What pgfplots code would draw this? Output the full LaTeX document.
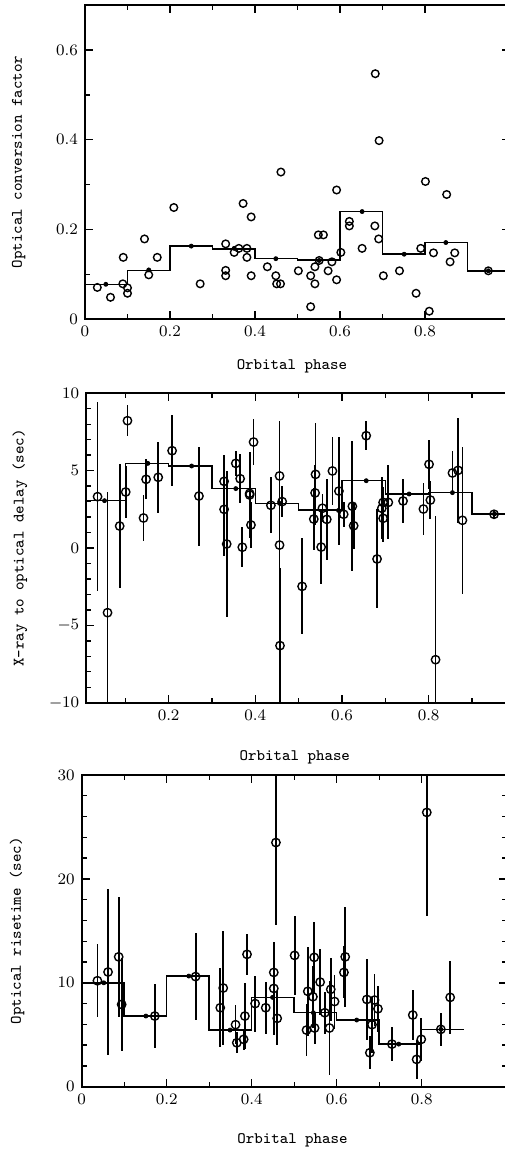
\documentclass[border=0pt]{standalone}
\usepackage{pgfplots}
\pgfplotsset{compat=1.18}

\pgfplotsset{
  phase/.style={
    scale only axis,
    anchor=south west,
    width=212.5pt,
    xmax=1,
    axis line style={line width=1pt},
    tick style={line width=0.7pt, black},
    major tick length=4pt, minor tick length=2.5pt,
    tick label style={font=\fontsize{8}{9}\selectfont},
    label style={font=\fontsize{8}{9}\selectfont\ttfamily},
    minor x tick num=1,
    xlabel={Orbital phase},
  },
  pts/.style={only marks, mark=o, mark size=1.9pt, mark options={line width=0.7pt}, black},
  bins/.style={only marks, mark=*, mark size=1pt, black},
  steps/.style={const plot, line width=0.75pt, black, mark=none},
  errs/.style={only marks, mark=o, mark size=2.1pt, mark options={line width=0.7pt}, black,
    error bars/.cd, y dir=both, y explicit, error mark=none,
    error bar style={line width=0.9pt}},
}

\begin{document}
\begin{tikzpicture}

% top: conversion factor
\begin{axis}[phase, at={(42.5pt,-159.65pt)}, height=157.15pt,
  xmin=0, xtick={0,0.2,0.4,0.6,0.8},
  ymin=0, ymax=0.7, ytick distance=0.2, minor y tick num=1,
  ylabel={Optical conversion factor},
  ylabel style={at={(axis description cs:-0.156,0.5)}, anchor=center},
  xlabel style={at={(axis description cs:0.487,-0.149)}, anchor=center}]
\addplot[steps] table {
0   0.078
0.1 0.109
0.2 0.163
0.3 0.157
0.4 0.135
0.5 0.132
0.6 0.240
0.7 0.145
0.8 0.171
0.9 0.108
1.0 0.108
};
\addplot[bins] table {
0.049 0.078
0.150 0.110
0.250 0.163
0.351 0.158
0.449 0.135
0.551 0.131
0.652 0.240
0.751 0.145
0.849 0.171
0.949 0.108
};
\addplot[pts] table {
0.029 0.071
0.060 0.049
0.090 0.138
0.089 0.079
0.100 0.070
0.100 0.058
0.140 0.179
0.150 0.099
0.170 0.138
0.209 0.249
0.271 0.079
0.331 0.168
0.331 0.109
0.331 0.097
0.351 0.149
0.362 0.158
0.372 0.258
0.381 0.158
0.381 0.138
0.391 0.228
0.391 0.097
0.429 0.117
0.449 0.097
0.451 0.079
0.460 0.079
0.461 0.328
0.502 0.108
0.531 0.097
0.531 0.028
0.541 0.117
0.541 0.079
0.549 0.188
0.561 0.188
0.551 0.131
0.572 0.108
0.581 0.128
0.592 0.288
0.592 0.088
0.602 0.149
0.622 0.218
0.622 0.208
0.652 0.158
0.683 0.547
0.692 0.398
0.682 0.208
0.691 0.179
0.702 0.097
0.740 0.108
0.779 0.058
0.790 0.158
0.801 0.307
0.810 0.018
0.820 0.148
0.851 0.278
0.859 0.128
0.870 0.148
0.949 0.108
};
\end{axis}

% middle: delay
\begin{axis}[phase, at={(43.15pt,-351.35pt)}, height=154.7pt, width=214.5pt,
  xmin=0.01, xtick={0.2,0.4,0.6,0.8}, minor xtick={0.1,0.3,0.5,0.7,0.9},
  ymin=-10, ymax=10, ytick distance=5, minor y tick num=4,
  ylabel={X-ray to optical delay (sec)},
  ylabel style={at={(axis description cs:-0.155,0.5)}, anchor=center},
  xlabel style={at={(axis description cs:0.486,-0.176)}, anchor=center}]
\addplot[steps] table {
0.01 3.06
0.1  5.47
0.2  5.30
0.3  3.84
0.4  2.89
0.5  2.46
0.6  4.35
0.7  3.49
0.8  3.58
0.9  2.20
1.0  2.20
};
\addplot[bins] table {
0.052 3.06
0.152 5.47
0.253 5.30
0.355 3.84
0.456 2.89
0.592 2.43
0.656 4.35
0.755 3.49
0.855 3.58
0.952 2.20
};
\addplot[errs] table[x index=0, y index=1, y error index=2] {
0.036 3.32 6.1
0.059 -4.18 7.8
0.087 1.42 4.0
0.101 3.62 1.7
0.105 8.23 1.0
0.142 1.94 1.5
0.148 4.44 1.3
0.176 4.57 2.3
0.208 6.29 2.3
0.270 3.36 3.2
0.328 4.31 1.7
0.328 2.50 3.0
0.334 0.26 4.7
0.355 5.47 0.8
0.365 4.48 1.6
0.370 0.05 1.3
0.387 3.53 0.8
0.387 3.43 2.8
0.390 1.49 1.5
0.396 6.85 1.5
0.436 2.76 1.8
0.456 4.66 3.5
0.456 0.19 8.0
0.457 -6.31 5.0
0.462 3.00 1.0
0.508 -2.48 3.1
0.539 4.76 3.3
0.538 3.56 1.8
0.535 1.87 2.0
0.555 2.57 0.9
0.552 0.06 2.4
0.565 1.85 2.6
0.578 4.98 2.2
0.593 3.68 3.5
0.604 2.18 0.8
0.624 2.70 4.2
0.627 1.44 1.5
0.656 7.26 0.95
0.681 -0.71 3.2
0.692 2.57 2.0
0.695 1.92 1.5
0.695 2.95 1.0
0.707 2.95 2.4
0.741 3.04 1.4
0.788 2.52 1.7
0.801 5.41 1.6
0.804 3.10 1.2
0.816 -7.22 9.3
0.855 4.85 1.4
0.868 5.02 3.4
0.878 1.79 4.75
0.951 2.18 0.3
};
\end{axis}

% bottom: risetime
\begin{axis}[phase, at={(40.85pt,-543.35pt)}, height=155.85pt,
  xmin=0, xtick={0,0.2,0.4,0.6,0.8},
  ymin=0, ymax=30, ytick distance=10, minor y tick num=4,
  ylabel={Optical risetime (sec)},
  ylabel style={at={(axis description cs:-0.152,0.5)}, anchor=center},
  xlabel style={at={(axis description cs:0.496,-0.171)}, anchor=center}]
\addplot[steps] table {
0   10.0
0.1 6.8
0.2 10.65
0.3 5.45
0.4 8.6
0.5 7.12
0.6 6.42
0.7 4.1
0.8 5.52
0.9 5.52
};
\addplot[bins] table {
0.052 10.0
0.151 6.8
0.252 10.65
0.349 5.45
0.449 8.6
0.545 7.12
0.647 6.42
0.746 4.1
0.845 5.52
};
\addplot[errs] table[x index=0, y index=1, y error index=2] {
0.037 10.2 3.5
0.062 11.04 8.0
0.087 12.5 5.8
0.094 7.92 4.5
0.172 6.8 3.1
0.268 10.6 4.2
0.326 7.6 3.8
0.333 9.5 5.5
0.362 5.97 1.9
0.365 4.23 1.0
0.381 4.56 1.0
0.384 6.8 3.2
0.389 12.74 2.0
0.408 8.0 2.7
0.433 7.6 2.5
0.452 9.46 4.5
0.452 11.0 2.8
0.460 6.58 2.6
0.457 23.5 7.9
0.501 12.64 3.8
0.532 9.18 4.3
0.529 5.45 2.5
0.547 12.45 3.4
0.544 8.66 3.0
0.548 5.65 1.5
0.561 10.07 3.2
0.572 7.12 2.0
0.583 5.65 4.5
0.586 9.37 3.0
0.595 8.2 2.6
0.617 11.0 2.5
0.620 12.5 4.8
0.671 8.4 3.9
0.678 3.27 1.6
0.683 5.97 2.7
0.689 8.34 2.5
0.697 7.5 2.2
0.730 4.1 1.6
0.779 6.9 2.4
0.788 2.63 1.9
0.799 4.56 2.1
0.812 26.4 10.0
0.845 5.52 1.6
0.867 8.6 3.5
};
\end{axis}

\pgfresetboundingbox
\path[use as bounding box] (0,0) rectangle (252pt,-575.5pt);
\end{tikzpicture}
\end{document}
